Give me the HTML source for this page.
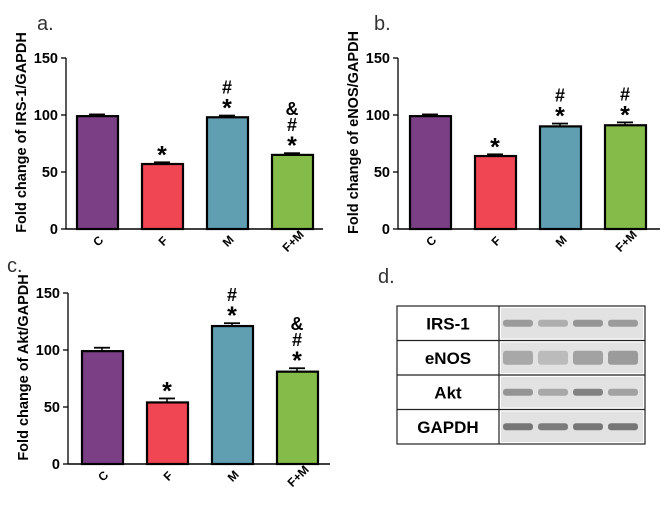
<!DOCTYPE html>
<html><head><meta charset="utf-8"><style>
body{margin:0;background:#fff;width:669px;height:513px;overflow:hidden;font-family:"Liberation Sans",sans-serif}
svg{position:absolute;left:0;top:0}
</style></head><body>
<svg id="s" width="669" height="513">
<g id="blot">
<rect x="397" y="306" width="248" height="138" fill="#fff" stroke="#222" stroke-width="1.2"/>
</g>
</svg>
<script>
const categories=["C","F","M","F+M"];
const colors=["#7b3f86","#f04553","#5f9fb1","#85bb48"];
const irsValues=[99,57,98,65];
const irsErrors=[1.5,1.5,1.5,1.5];
const irsMarks=[[],["*"],["*","#"],["*","#","&"]];
const enosValues=[99,64,90,91];
const enosErrors=[1.5,1.5,2.5,2.5];
const enosMarks=[[],["*"],["*","#"],["*","#"]];
const aktValues=[99,54,121,81];
const aktErrors=[3,3.5,2.5,3];
const aktMarks=[[],["*"],["*","#"],["*","#","&"]];
const yTicks=[0,50,100,150];
const blotLabels=["IRS-1","eNOS","Akt","GAPDH"];
const blotIntensity=[[0.55,0.4,0.6,0.55],[0.45,0.3,0.5,0.55],[0.6,0.45,0.75,0.5],[0.85,0.8,0.85,0.85]];
const NS="http://www.w3.org/2000/svg";
const svg=document.getElementById('s');
function el(t,a,p){const e=document.createElementNS(NS,t);for(const k in a)e.setAttribute(k,a[k]);(p||svg).appendChild(e);return e;}
function chart(id,letter,lx,ly,title,ox,top,bot,right,bx0,values,errors,marks){
  const g=el('g',{});
  
  
  const y=v=>bot-(v/150)*(bot-top);
  const x=i=>bx0+i*65;
  const lt=el('text',{x:lx,y:ly,'font-size':20,fill:'#333'},g);lt.textContent=letter;
  
  
  el('line',{x1:ox,y1:top,x2:ox,y2:bot,stroke:'#000','stroke-width':1.3},g);
  el('line',{x1:ox,y1:bot,x2:right,y2:bot,stroke:'#000','stroke-width':1.5},g);
  yTicks.forEach(t=>{
    el('line',{x1:ox-5,y1:y(t),x2:ox,y2:y(t),stroke:'#000','stroke-width':1.3},g);
    const tx=el('text',{x:ox-8,y:y(t)+5,'font-size':14.5,'font-weight':'bold','text-anchor':'end'},g);tx.textContent=t;
    
    
  });
  const yt=el('text',{transform:`translate(${ox-40},${(top+bot)/2-11}) rotate(-90)`,'font-size':14.5,'font-weight':'bold','text-anchor':'middle'},g);yt.textContent=title;
  
  
  values.forEach((v,i)=>{
    const e=y(v+errors[i]);
    el('line',{x1:x(i)+20,y1:y(v),x2:x(i)+20,y2:e,stroke:'#000','stroke-width':1.5},g);
    el('line',{x1:x(i)+12,y1:e,x2:x(i)+28,y2:e,stroke:'#000','stroke-width':1.8},g);
    const b=el('rect',{x:x(i),y:y(v),width:41,height:bot-y(v),fill:colors[i],stroke:'#000','stroke-width':2.2},g);
    
    
    marks[i].forEach((m,k)=>{
      const by=m==='*'?e+1:(m==='#'?e-22:e-38);
      const t=el('text',{x:x(i)+20,y:by,'font-size':m==='*'?25:18,'font-weight':'bold','text-anchor':'middle'},g);
      t.textContent=m;
      
      
    });
    const c=el('text',{transform:`translate(${x(i)+24},${bot+15}) rotate(-45)`,'font-size':12,'font-weight':'bold','text-anchor':'middle'},g);c.textContent=categories[i];
    
    
  });
}
chart('irs1-chart','a.',37,30,'Fold change of IRS-1/GAPDH',66,58,229,323,77,irsValues,irsErrors,irsMarks);
chart('enos-chart','b.',374,30,'Fold change of eNOS/GAPDH',398,58,229,660,410,enosValues,enosErrors,enosMarks);
chart('akt-chart','c.',7,272,'Fold change of Akt/GAPDH',68,293,464,330,82,aktValues,aktErrors,aktMarks);
const blot=document.getElementById('blot');
const d=el('text',{x:378,y:283,'font-size':20,fill:'#333'},blot);d.textContent='d.';


const rh=138/4;
blotLabels.forEach((lab,r)=>{
  const y0=306+r*rh;
  if(r>0)el('line',{x1:397,y1:y0,x2:645,y2:y0,stroke:'#222','stroke-width':1.2},blot);
  el('rect',{x:501,y:y0+2,width:142,height:rh-4,fill:'#e2e2e2'},blot);
  blotIntensity[r].forEach((k,j)=>{
    const gr=Math.round(225-k*140);
    const band=el('rect',{x:503+j*35,y:y0+rh/2-(r===1?7:3.5),width:30,height:r===1?14:7,rx:3,fill:`rgb(${gr},${gr},${gr})`,opacity:0.9},blot);
    
    
  });
  const t=el('text',{x:448,y:y0+rh/2+6,'font-size':17,'font-weight':'bold','text-anchor':'middle'},blot);t.textContent=lab;
  
  
});
el('line',{x1:499,y1:306,x2:499,y2:444,stroke:'#222','stroke-width':1.2},blot);
</script>
</body></html>
